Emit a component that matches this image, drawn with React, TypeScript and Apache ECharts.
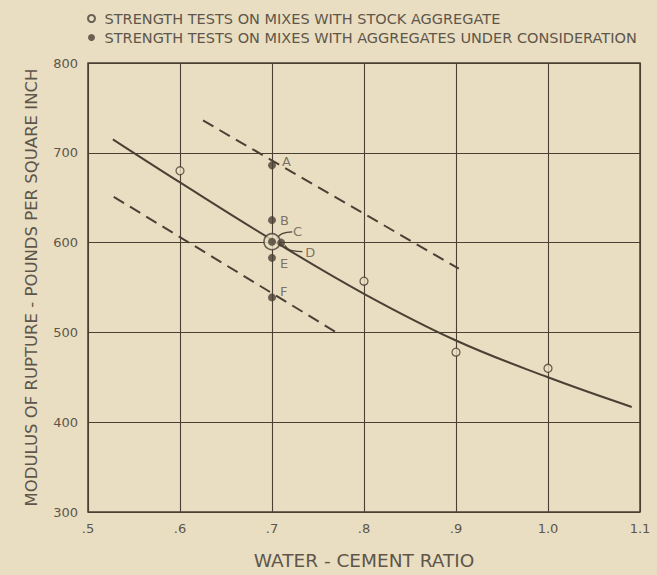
import React, { useEffect, useRef } from "react";
import * as echarts from "echarts";

// ---- data ----
const xTickLabels = [".5", ".6", ".7", ".8", ".9", "1.0", "1.1"];
const yTickLabels = ["300", "400", "500", "600", "700", "800"];

const stockName = "STRENGTH TESTS ON MIXES WITH STOCK AGGREGATE";
const testName = "STRENGTH TESTS ON MIXES WITH AGGREGATES UNDER CONSIDERATION";

const stockX = [0.6, 0.8, 0.9, 1.0];
const stockY = [680, 557, 478, 460];
const stockMeanX = [0.7];
const stockMeanY = [601];

const testLabels = ["A", "B", "C", "D", "E", "F"];
const testX = [0.7, 0.7, 0.7, 0.71, 0.7, 0.7];
const testY = [686, 625, 601, 600, 583, 539];

const curveX = [0.527, 0.6, 0.7, 0.8, 0.9, 1.0, 1.091];
const curveY = [715, 667, 603, 543, 491, 450, 417];

const upperDashX = [0.625, 0.903];
const upperDashY = [736, 571];
const lowerDashX = [0.528, 0.77];
const lowerDashY = [651, 500];

const leaderCX = [0.705, 0.711, 0.722];
const leaderCY = [604, 610, 612];
const leaderDX = [0.714, 0.722, 0.733];
const leaderDY = [597, 591, 590];

// ---- styles ----
const BG = "#e9dec2";
const INK = "#4a4034";
const TEXT = "#5e564a";
const FONT = "DejaVu Sans";
const labelOffsets: Record<string, [number, number]> = {
  A: [10, -4],
  B: [8, 0],
  C: [21, -10],
  D: [24, 10],
  E: [8, 6],
  F: [8, -6],
};

const zip = (xs: number[], ys: number[]) => xs.map((x, i) => [x, ys[i]]);

export default function App() {
  const ref = useRef<HTMLDivElement>(null);
  useEffect(() => {
    if (!ref.current) return;
    const chart = echarts.init(ref.current, undefined, { renderer: "svg" });
    const option: any = {
      animation: false,
      backgroundColor: BG,
      textStyle: { fontFamily: FONT },
      legend: {
        data: [stockName, testName],
        orient: "vertical",
        left: 82,
        top: 6,
        itemWidth: 16,
        itemHeight: 7,
        itemGap: 4,
        textStyle: { color: TEXT, fontSize: 14.5, fontFamily: FONT, lineHeight: 15 },
        selectedMode: false,
      },
      grid: {
        left: 88,
        right: 17,
        top: 63,
        bottom: 60,
        show: true,
        borderColor: INK,
        borderWidth: 1.5,
      },
      xAxis: {
        type: "value",
        min: 0.5,
        max: 1.1,
        interval: 0.1,
        name: "WATER - CEMENT RATIO",
        nameLocation: "middle",
        nameGap: 39,
        nameTextStyle: { color: TEXT, fontSize: 18.5, fontFamily: FONT },
        axisLine: { show: false },
        axisTick: { show: false },
        axisLabel: {
          color: TEXT,
          fontSize: 13,
          margin: 10,
          formatter: (v: number) => xTickLabels[Math.round((v - 0.5) / 0.1)] ?? "",
        },
        splitLine: { show: true, lineStyle: { color: INK, width: 1.1 } },
      },
      yAxis: {
        type: "value",
        min: 300,
        max: 800,
        interval: 100,
        name: "MODULUS OF RUPTURE - POUNDS PER SQUARE INCH",
        nameLocation: "middle",
        nameGap: 48,
        nameRotate: 90,
        nameTextStyle: { color: TEXT, fontSize: 16.5, fontFamily: FONT },
        axisLine: { show: false },
        axisTick: { show: false },
        axisLabel: {
          color: TEXT,
          fontSize: 13,
          margin: 10,
          formatter: (v: number) => yTickLabels[Math.round((v - 300) / 100)] ?? "",
        },
        splitLine: { show: true, lineStyle: { color: INK, width: 1.1 } },
      },
      series: [
        {
          type: "line",
          data: zip(curveX, curveY),
          smooth: 0.4,
          showSymbol: false,
          silent: true,
          lineStyle: { color: INK, width: 2 },
          z: 2,
        },
        {
          type: "line",
          data: zip(upperDashX, upperDashY),
          showSymbol: false,
          silent: true,
          lineStyle: { color: INK, width: 2, type: [12, 7] },
          z: 2,
        },
        {
          type: "line",
          data: zip(lowerDashX, lowerDashY),
          showSymbol: false,
          silent: true,
          lineStyle: { color: INK, width: 2, type: [12, 7] },
          z: 2,
        },
        {
          type: "line",
          data: zip(leaderCX, leaderCY),
          smooth: true,
          showSymbol: false,
          silent: true,
          lineStyle: { color: INK, width: 1.2 },
          z: 2,
        },
        {
          type: "line",
          data: zip(leaderDX, leaderDY),
          smooth: true,
          showSymbol: false,
          silent: true,
          lineStyle: { color: INK, width: 1.2 },
          z: 2,
        },
        {
          name: stockName,
          type: "scatter",
          data: zip(stockX, stockY),
          symbol: "circle",
          symbolSize: 8,
          itemStyle: { color: BG, borderColor: INK, borderWidth: 1.3 },
          z: 3,
        },
        {
          name: stockName,
          type: "scatter",
          data: zip(stockMeanX, stockMeanY),
          symbol: "circle",
          symbolSize: 16,
          itemStyle: { color: BG, borderColor: INK, borderWidth: 1.6 },
          z: 3,
        },
        {
          name: testName,
          type: "scatter",
          data: testLabels.map((l, i) => ({
            value: [testX[i], testY[i]],
            name: l,
            label: {
              show: true,
              formatter: l,
              position: "inside",
              align: "left",
              verticalAlign: "middle",
              offset: labelOffsets[l],
              color: TEXT,
              fontSize: 13,
              fontFamily: FONT,
            },
          })),
          symbol: "circle",
          symbolSize: 8,
          itemStyle: { color: INK, borderColor: INK, borderWidth: 0 },
          z: 4,
        },
      ],
    };
    chart.setOption(option);
    return () => chart.dispose();
  }, []);
  return (
    <div
      ref={ref}
      style={{ position: "absolute", left: 0, top: 0, width: 657, height: 575 }}
    />
  );
}
